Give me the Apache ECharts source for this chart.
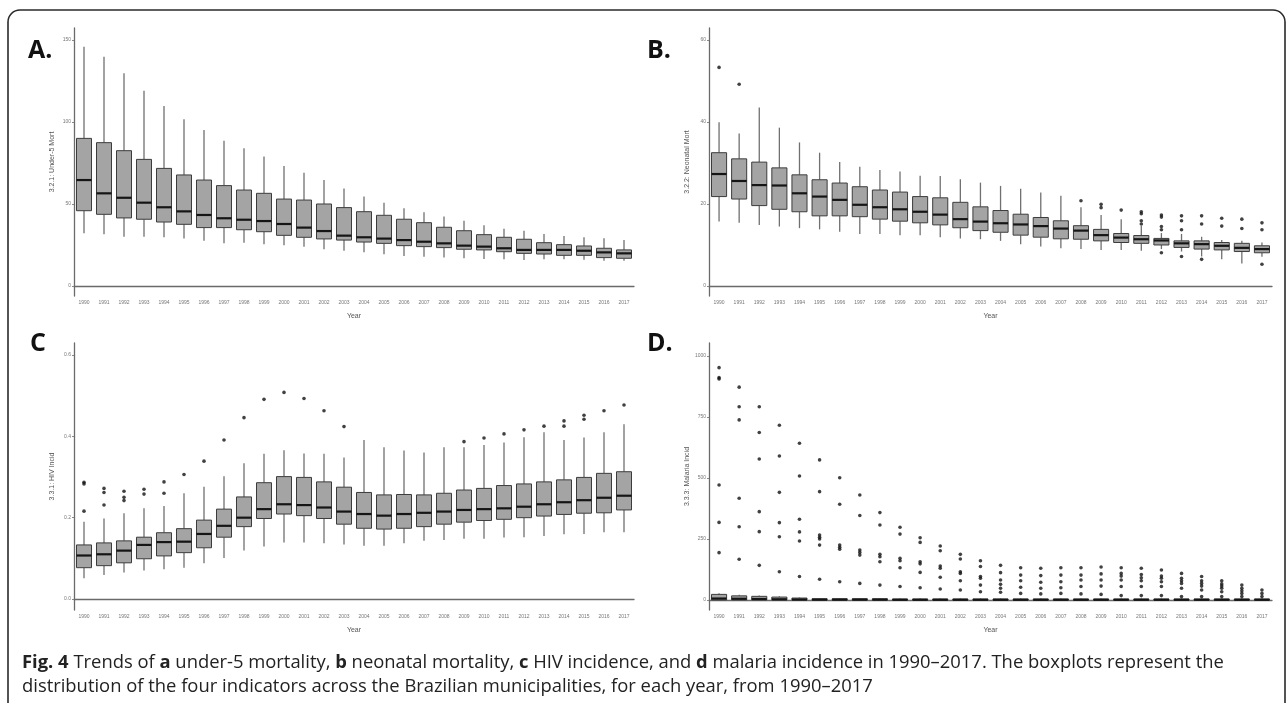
<!DOCTYPE html>
<html><head><meta charset="utf-8">
<script src="https://cdn.jsdelivr.net/npm/echarts@6/dist/echarts.min.js"></script>
<style>html,body{margin:0;padding:0;background:#fff}#c{width:1287px;height:703px}</style>
</head><body><div id="c"></div>
<script>
const years = ['1990','1991','1992','1993','1994','1995','1996','1997','1998','1999','2000','2001','2002','2003','2004','2005','2006','2007','2008','2009','2010','2011','2012','2013','2014','2015','2016','2017'];

// Box stats per year: [lower whisker, Q1, median, Q3, upper whisker]
const under5Box = [
 [32.1,45.9,64.6,90.0,145.9],[31.5,43.7,56.5,87.4,139.8],[30.1,41.5,53.8,82.5,129.7],[30.0,40.7,50.8,77.2,119.1],
 [29.7,39.0,48.0,71.7,109.8],[28.9,37.6,45.5,67.7,101.6],[27.6,35.6,43.3,64.6,95.1],[26.0,35.6,41.3,61.2,88.6],
 [26.4,34.3,40.4,58.5,84.0],[25.4,33.1,39.6,56.5,78.9],[24.8,30.9,37.8,53.0,73.2],[24.0,29.7,35.6,52.4,69.1],
 [22.4,28.7,33.5,50.0,64.6],[21.5,28.0,30.7,47.8,59.5],[20.5,26.8,29.7,45.3,54.5],[19.3,26.0,28.9,43.1,50.8],
 [18.3,24.6,28.0,40.7,47.4],[17.9,24.0,27.0,38.6,44.9],[17.3,23.4,26.0,35.8,42.3],[16.9,22.4,24.6,33.7,39.8],
 [16.5,22.0,24.0,31.3,37.0],[16.3,20.9,23.0,29.7,34.9],[15.9,19.9,22.0,28.5,33.7],[16.3,19.5,22.0,26.4,31.7],
 [16.3,18.7,22.0,25.2,30.5],[16.0,18.7,21.5,24.4,29.7],[15.4,17.3,20.5,23.0,29.1],[15.4,16.9,19.9,22.0,28.0]
];
const under5Out = [[],[],[],[],[],[],[],[],[],[],[],[],[],[],[],[],[],[],[],[],[],[],[],[],[],[],[],[]];

const neonatalBox = [
 [15.7,21.8,27.3,32.5,39.9],[15.4,21.2,25.6,31.0,37.2],[14.9,19.6,24.6,30.2,43.5],[14.5,18.7,24.5,28.8,38.6],
 [14.1,18.1,22.6,27.1,35.0],[13.8,17.1,21.8,25.9,32.5],[13.2,17.1,21.0,25.1,30.2],[12.7,16.9,19.8,24.2,29.1],
 [12.7,16.3,19.2,23.4,28.3],[12.4,15.8,18.7,22.9,27.9],[12.4,15.4,18.1,21.8,26.9],[11.9,14.9,17.4,21.5,26.8],
 [11.6,14.2,16.3,20.4,26.0],[11.4,13.5,15.7,19.3,25.2],[11.0,13.1,15.3,18.4,24.4],[10.2,12.4,15.0,17.5,23.7],
 [9.6,11.9,14.6,16.7,22.8],[9.2,11.5,14.0,15.9,22.0],[9.0,11.4,13.5,14.7,19.2],[8.8,11.0,12.4,13.8,17.3],
 [8.8,10.6,11.8,12.8,16.3],[8.6,10.4,11.4,12.3,14.6],[9.0,10.0,11.1,11.6,12.9],[8.4,9.4,10.4,11.0,12.7],
 [7.2,9.0,10.2,11.0,12.0],[6.5,8.8,9.8,10.6,11.2],[5.5,8.4,9.3,10.4,11.0],[7.1,8.1,9.0,9.8,10.6]
];
const neonatalOut = [[53.3],[49.2],[],[],[],[],[],[],[],[],[],[],[],[],[],[],[],[],[20.8],[19.9,19.1],[18.5],
 [18.1,17.6,15.9,15.1],[17.3,16.8,14.5,13.7,8.1],[17.1,15.9,13.7,7.2],[17.1,15.1,6.5],[16.5,14.6],[16.3,14.0],[15.4,13.7,5.3]];

const hivBox = [
 [0.051,0.077,0.107,0.133,0.190],[0.059,0.082,0.110,0.138,0.198],[0.065,0.089,0.119,0.143,0.211],[0.070,0.099,0.133,0.152,0.223],
 [0.073,0.106,0.140,0.163,0.229],[0.077,0.114,0.141,0.173,0.260],[0.088,0.126,0.160,0.194,0.276],[0.101,0.152,0.180,0.221,0.302],
 [0.119,0.178,0.200,0.251,0.334],[0.129,0.198,0.221,0.286,0.357],[0.139,0.209,0.233,0.301,0.366],[0.139,0.205,0.231,0.299,0.358],
 [0.137,0.198,0.225,0.288,0.357],[0.134,0.184,0.215,0.275,0.348],[0.131,0.174,0.209,0.262,0.391],[0.131,0.172,0.205,0.256,0.373],
 [0.137,0.174,0.209,0.257,0.365],[0.143,0.178,0.212,0.256,0.360],[0.145,0.184,0.215,0.260,0.373],[0.148,0.189,0.219,0.268,0.373],
 [0.148,0.193,0.221,0.272,0.379],[0.151,0.196,0.223,0.279,0.385],[0.152,0.200,0.227,0.283,0.398],[0.155,0.204,0.233,0.288,0.410],
 [0.159,0.208,0.238,0.293,0.391],[0.160,0.211,0.243,0.299,0.397],[0.164,0.212,0.249,0.309,0.410],[0.164,0.219,0.254,0.313,0.430]
];
const hivOut = [[0.287,0.283,0.216],[0.272,0.262,0.231],[0.265,0.250,0.242],[0.270,0.258],[0.288,0.260],[0.306],[0.339],[0.391],
 [0.446],[0.491],[0.508],[0.493],[0.463],[0.424],[],[],[],[],[],[0.387],[0.396],[0.406],[0.416],[0.425],[0.438,0.425],[0.452,0.442],[0.463],[0.477]];

const malariaBox = [
 [0,0.5,6,23,28],[0,0.5,5,17,21],[0,0.5,4,15,18],[0,0.4,3,12,15],[0,0.3,2,8,10],[0,0.2,1.5,5,7],[0,0.2,1.5,5,7],
 [0,0.2,1.5,5,7],[0,0.2,1.5,5,7],[0,0.1,1,4,6],[0,0.1,1,4,6],[0,0.1,1,4,6],[0,0.1,1,4,6],[0,0.1,1,4,6],
 [0,0.1,1,4,6],[0,0.1,1,4,6],[0,0.1,1,4,6],[0,0.1,1,4,6],[0,0.1,1,4,6],[0,0.1,1,4,6],[0,0.1,1,4,6],
 [0,0.1,1,4,6],[0,0.1,1,4,6],[0,0.1,1,4,6],[0,0.1,1,4,6],[0,0.1,1,4,6],[0,0.1,1,4,6],[0,0.1,1,4,6]
];
const malariaOut = [
 [952,911,906,471,318,194],[872,792,738,417,300,167],[792,686,578,362,280,142],[716,590,441,317,259,116],
 [642,508,331,279,242,96],[574,444,266,257,250,225,85],[501,392,225,216,208,75],[430,346,205,195,184,68],
 [358,307,187,177,157,61],[298,270,171,161,132,55],[255,236,157,148,113,50],[221,202,139,130,93,45],
 [187,168,116,109,79,41],[161,137,96,89,61,34],[142,112,82,64,48,32],[132,102,79,52,27],[130,100,73,48,25],
 [132,102,75,50,27],[132,102,82,55,25],[135,107,82,57,23],[132,109,98,82,55,18],[130,104,91,79,55,18],
 [123,98,89,75,55,18],[109,89,79,68,48,14],[96,79,68,57,41,14],[79,66,57,48,34,14],[61,48,38,27,14],[41,27,14]
];

const panels = [
 {box: under5Box, out: under5Out, name: '3.2.1: Under-5 Mort', min: -6.1, max: 157.3, ticks: [0,50,100,150], fmt: v => String(v),
  grid: {left: 74, top: 28, width: 560, height: 268}},
 {box: neonatalBox, out: neonatalOut, name: '3.2.2: Neonatal Mort', min: -2.44, max: 62.9, ticks: [0,20,40,60], fmt: v => String(v),
  grid: {left: 709, top: 28, width: 563, height: 268}},
 {box: hivBox, out: hivOut, name: '3.3.1: HIV Incid', min: -0.027, max: 0.6295, ticks: [0,0.2,0.4,0.6], fmt: v => v.toFixed(1),
  grid: {left: 74, top: 343, width: 560, height: 267}},
 {box: malariaBox, out: malariaOut, name: '3.3.3: Malaria Incid', min: -41, max: 1053, ticks: [0,250,500,750,1000], fmt: v => String(v),
  grid: {left: 709, top: 343, width: 563, height: 267}}
];

function renderBox(params, api) {
  const i = api.value(0);
  const low = api.coord([i, api.value(1)]);
  const q1 = api.coord([i, api.value(2)]);
  const med = api.coord([i, api.value(3)]);
  const q3 = api.coord([i, api.value(4)]);
  const high = api.coord([i, api.value(5)]);
  const band = api.size([1, 0])[0];
  const w = band * 0.75;
  const cx = q1[0];
  return {
    type: 'group',
    children: [
      {type: 'line', shape: {x1: cx, y1: high[1], x2: cx, y2: q3[1]}, style: {stroke: '#707070', lineWidth: 1.3}},
      {type: 'line', shape: {x1: cx, y1: q1[1], x2: cx, y2: low[1]}, style: {stroke: '#707070', lineWidth: 1.3}},
      {type: 'rect', shape: {x: cx - w / 2, y: q3[1], width: w, height: Math.max(q1[1] - q3[1], 1)},
       style: {fill: '#a4a4a4', stroke: '#3c3c3c', lineWidth: 1}},
      {type: 'line', shape: {x1: cx - w / 2, y1: med[1], x2: cx + w / 2, y2: med[1]}, style: {stroke: '#151515', lineWidth: 2.2}}
    ]
  };
}

const grid = [], xAxis = [], yAxis = [], series = [];
panels.forEach((p, k) => {
  grid.push(p.grid);
  xAxis.push({
    type: 'category', gridIndex: k, data: years, boundaryGap: true,
    name: 'Year', nameLocation: 'middle', nameGap: 17,
    nameTextStyle: {fontSize: 7, color: '#555', fontFamily: 'Liberation Sans'},
    axisLine: {lineStyle: {color: '#6a6a6a', width: 1.3}},
    axisTick: {alignWithLabel: true, length: 2, lineStyle: {color: '#888'}},
    axisLabel: {interval: 0, fontSize: 5, color: '#777', margin: 4, fontFamily: 'Liberation Sans'},
    splitLine: {show: false}
  });
  yAxis.push({
    type: 'value', gridIndex: k, min: p.min, max: p.max,
    name: p.name, nameLocation: 'middle', nameGap: 18, nameRotate: 90,
    nameTextStyle: {fontSize: 7, color: '#555', fontFamily: 'Liberation Sans'},
    axisLine: {show: true, lineStyle: {color: '#6a6a6a', width: 1.3}},
    axisTick: {show: true, length: 2, customValues: p.ticks, lineStyle: {color: '#888'}},
    axisLabel: {fontSize: 5, color: '#777', margin: 3, customValues: p.ticks, formatter: p.fmt, fontFamily: 'Liberation Sans'},
    splitLine: {show: false}
  });
  series.push({
    type: 'custom', xAxisIndex: k, yAxisIndex: k, renderItem: renderBox,
    encode: {x: 0, y: [1, 2, 3, 4, 5]},
    data: p.box.map((b, i) => [i].concat(b)), silent: true
  });
  const pts = [];
  p.out.forEach((list, i) => list.forEach(v => pts.push([i, v])));
  series.push({
    type: 'scatter', xAxisIndex: k, yAxisIndex: k, data: pts,
    symbolSize: 3.6, itemStyle: {color: '#111'}, silent: true
  });
});

const captionLine1 = '{b|Fig. 4} Trends of {b|a} under-5 mortality, {b|b} neonatal mortality, {b|c} HIV incidence, and {b|d} malaria incidence in 1990–2017. The boxplots represent the';
const captionLine2 = 'distribution of the four indicators across the Brazilian municipalities, for each year, from 1990–2017';

const labelStyle = {fontSize: 25, fontWeight: 'bold', fill: '#111', fontFamily: 'Open Sans'};
const chart = echarts.init(document.getElementById('c'), null, {renderer: 'canvas'});
chart.setOption({
  animation: false,
  backgroundColor: '#fff',
  grid, xAxis, yAxis, series,
  graphic: [
    {type: 'rect', shape: {x: 8, y: 10, width: 1277, height: 705, r: 12}, style: {fill: 'none', stroke: '#2a2a2a', lineWidth: 1.6}},
    {type: 'text', left: 28, top: 38, style: Object.assign({text: 'A.'}, labelStyle)},
    {type: 'text', left: 647, top: 38, style: Object.assign({text: 'B.'}, labelStyle)},
    {type: 'text', left: 30, top: 331, style: Object.assign({text: 'C'}, labelStyle)},
    {type: 'text', left: 647, top: 331, style: Object.assign({text: 'D.'}, labelStyle)},
    {type: 'text', left: 22, top: 654, style: {text: captionLine1, fontSize: 18.4, fill: '#222', fontFamily: 'Open Sans',
      rich: {b: {fontSize: 18.4, fontWeight: 'bold', fill: '#222', fontFamily: 'Open Sans'}}}},
    {type: 'text', left: 22, top: 678, style: {text: captionLine2, fontSize: 18.4, fill: '#222', fontFamily: 'Open Sans'}}
  ]
});
</script></body></html>
